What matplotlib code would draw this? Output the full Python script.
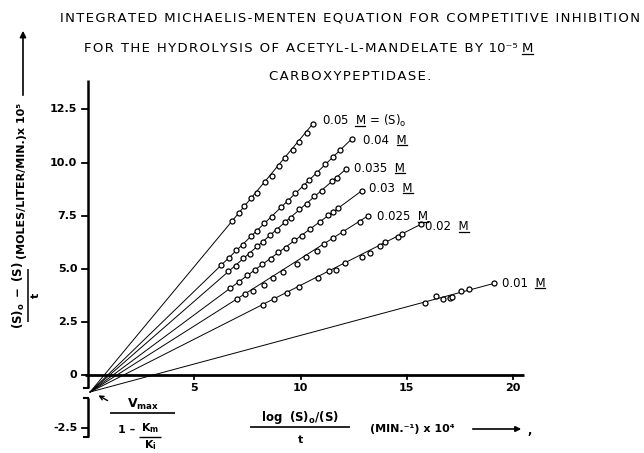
import matplotlib
matplotlib.use("Agg")
import matplotlib.pyplot as plt
from matplotlib.font_manager import FontProperties

plt.rcParams['font.family'] = ['DejaVu Sans']
plt.rcParams['mathtext.fontset'] = 'dejavusans'

# ---------------- data ----------------
series_names = ["0.05", "0.04", "0.035", "0.03", "0.025", "0.02", "0.01"]

x_005 = [6.79, 7.09, 7.36, 7.67, 7.97, 8.34, 8.64, 8.97, 9.27, 9.63, 9.95, 10.29, 10.57]
y_005 = [7.26, 7.64, 7.95, 8.31, 8.58, 9.07, 9.36, 9.85, 10.20, 10.59, 10.98, 11.40, 11.81]

x_004 = [6.24, 6.65, 6.96, 7.28, 7.65, 7.96, 8.29, 8.64, 9.06, 9.42, 9.76, 10.15, 10.39,
         10.79, 11.17, 11.53, 11.84, 12.41]
y_004 = [5.17, 5.52, 5.86, 6.13, 6.53, 6.78, 7.14, 7.44, 7.90, 8.20, 8.57, 8.90, 9.18,
         9.52, 9.93, 10.24, 10.58, 11.11]

x_0035 = [6.60, 6.95, 7.30, 7.60, 7.95, 8.25, 8.55, 8.90, 9.25, 9.55, 9.95, 10.30, 10.65,
          11.00, 11.50, 11.70, 12.13]
y_0035 = [4.88, 5.15, 5.49, 5.71, 6.06, 6.28, 6.58, 6.84, 7.19, 7.41, 7.80, 8.06, 8.41,
          8.67, 9.15, 9.28, 9.68]

x_003 = [6.70, 7.10, 7.50, 7.85, 8.20, 8.60, 8.95, 9.30, 9.70, 10.05, 10.45, 10.90, 11.30,
         11.55, 11.75, 12.88]
y_003 = [4.10, 4.37, 4.70, 4.92, 5.22, 5.48, 5.78, 6.00, 6.33, 6.55, 6.89, 7.18, 7.52,
         7.66, 7.85, 8.67]

x_0025 = [7.00, 7.40, 7.78, 8.28, 8.69, 9.19, 9.82, 10.26, 10.76, 11.10, 11.51, 12.01, 12.80, 13.16]
y_0025 = [3.58, 3.82, 3.97, 4.24, 4.55, 4.86, 5.22, 5.54, 5.85, 6.16, 6.43, 6.74, 7.20, 7.48]

x_002 = [8.22, 8.75, 9.35, 9.94, 10.84, 11.36, 11.67, 12.09, 12.88, 13.27, 13.74, 13.98,
         14.60, 14.79, 15.66]
y_002 = [3.28, 3.56, 3.87, 4.16, 4.58, 4.89, 4.94, 5.28, 5.57, 5.76, 6.07, 6.27,
         6.48, 6.64, 7.09]

x_001 = [15.86, 16.38, 16.72, 17.04, 17.14, 17.53, 17.93, 19.10]
y_001 = [3.40, 3.72, 3.58, 3.61, 3.69, 3.97, 4.03, 4.31]

# common intersection point of the fitted lines
x_cross = 0.1
y_cross = -0.8

x_ticks = [5, 10, 15, 20]
x_tick_labels = ["5", "10", "15", "20"]
y_ticks = [-2.5, 0, 2.5, 5.0, 7.5, 10.0, 12.5]
y_tick_labels = ["-2.5", "0", "2.5", "5.0", "7.5", "10.0", "12.5"]

xs_all = [x_005, x_004, x_0035, x_003, x_0025, x_002, x_001]
ys_all = [y_005, y_004, y_0035, y_003, y_0025, y_002, y_001]

# ---------------- figure ----------------
DPI = 100
PX = 21.25          # pixels per data unit
X0, Y0 = 88, 375    # pixel position of origin (from top-left)
W, H = 644, 453

fig = plt.figure(figsize=(W / DPI, H / DPI), dpi=DPI)
ax = fig.add_axes([0, 0, 1, 1])
ax.set_xlim(-X0 / PX, (W - X0) / PX)
ax.set_ylim(-(H - Y0) / PX, Y0 / PX)
ax.axis('off')

K = 'black'
HS = "\u200a"

def spaced(s):
    return HS.join(s)

def px2d(px, py):
    return ((px - X0) / PX, (Y0 - py) / PX)

def seg(p1, p2, lw=1.2):
    a = px2d(*p1)
    b = px2d(*p2)
    ax.plot([a[0], b[0]], [a[1], b[1]], color=K, lw=lw, solid_capstyle='butt')

# axes lines
ax.plot([-0.15, 20.5], [0, 0], color=K, lw=2.0, solid_capstyle='butt')
ax.plot([0, 0], [-0.62, 13.9], color=K, lw=1.8, solid_capstyle='butt')
ax.plot([0, -0.2], [-0.62, -0.62], color=K, lw=1.5)
ax.plot([0, 0], [-1.08, -2.92], color=K, lw=1.8, solid_capstyle='butt')
ax.plot([0, -0.2], [-1.08, -1.08], color=K, lw=1.5)
ax.plot([0, -0.2], [-2.92, -2.92], color=K, lw=1.5)

TKFS = 8
for yt, lab in zip(y_ticks, y_tick_labels):
    ax.plot([-0.3, 0], [yt, yt], color=K, lw=1.3)
    ax.text(-0.5, yt, lab, ha='right', va='center', fontsize=TKFS, fontweight='bold')

for xt, lab in zip(x_ticks, x_tick_labels):
    ax.plot([xt, xt], [0, -0.2], color=K, lw=1.3)
    ax.text(xt, -0.6, lab, ha='center', va='center', fontsize=TKFS, fontweight='bold')

# fitted lines and points
for xs, ys in zip(xs_all, ys_all):
    ax.plot([x_cross, xs[-1]], [y_cross, ys[-1]], color=K, lw=0.7)
    ax.plot(xs, ys, 'o', ms=3.6, mfc='white', mec=K, mew=0.9)

# series labels (M underlined)
LFS = 8.5
label_pos = [(11.0, 11.95), (12.96, 11.05), (12.52, 9.74), (13.24, 8.79),
             (13.59, 7.45), (15.86, 6.98), (19.47, 4.32)]
label_suffix = [" = (S)$_\\mathrm{o}$", "", "", "", "", "", ""]

underlines = []
for name, (lx, ly), suf in zip(series_names, label_pos, label_suffix):
    pre = name + "  "
    ax.text(lx, ly - 0.17, pre + "M" + suf, ha='left', va='baseline', fontsize=LFS)
    underlines.append((lx, ly - 0.17, pre, LFS, 'normal'))

# title
TFS = 9.5
t1 = spaced("INTEGRATED MICHAELIS-MENTEN EQUATION FOR COMPETITIVE INHIBITION")
t2_pre = spaced("FOR THE HYDROLYSIS OF ACETYL-L-MANDELATE BY ") + "10\u207b\u2075 "
t3 = spaced("CARBOXYPEPTIDASE.")
ax.text(*px2d(60, 22), t1, ha='left', va='baseline', fontsize=TFS)
ax.text(*px2d(84, 52), t2_pre + "M", ha='left', va='baseline', fontsize=TFS)
underlines.append((*px2d(84, 52), t2_pre, TFS, 'normal'))
ax.text(*px2d(350, 80), t3, ha='center', va='baseline', fontsize=TFS)

# y-axis label (rotated)
ax.text(*px2d(19, 295), r"$\mathbf{(S)_o\ -\ (S)}$", rotation=90,
        ha='center', va='center', fontsize=8.5)
seg((28, 269), (28, 322), lw=1.1)
ax.text(*px2d(36, 295), "t", rotation=90, ha='center', va='center',
        fontsize=8, fontweight='bold')
ax.text(*px2d(22, 181), "(MOLES/LITER/MIN.)x 10\u2075", rotation=90,
        ha='center', va='center', fontsize=8, fontweight='bold')
ax.annotate("", xy=px2d(23, 28), xytext=px2d(23, 98),
            arrowprops=dict(arrowstyle='-|>', lw=1.2, color=K, mutation_scale=9))

# bottom annotations
ax.annotate("", xy=px2d(96, 394), xytext=px2d(110, 402),
            arrowprops=dict(arrowstyle='->', lw=1.0, color=K, mutation_scale=7))
ax.text(*px2d(143, 404), r"$\mathbf{V_{max}}$", ha='center', va='center', fontsize=9)
seg((110, 413), (175, 413), lw=1.2)
ax.text(*px2d(127, 430), "1 \u2013", ha='center', va='center', fontsize=8, fontweight='bold')
ax.text(*px2d(150, 428), r"$\mathbf{K_m}$", ha='center', va='center', fontsize=8)
seg((139, 437), (161, 437), lw=1.0)
ax.text(*px2d(150, 445), r"$\mathbf{K_i}$", ha='center', va='center', fontsize=8)

ax.text(*px2d(300, 418), r"$\mathbf{log\ \ (S)_o/(S)}$", ha='center', va='center', fontsize=8.5)
seg((250, 427), (350, 427), lw=1.2)
ax.text(*px2d(300, 440), "t", ha='center', va='center', fontsize=8, fontweight='bold')
ax.text(*px2d(370, 429), "(MIN.\u207b\u00b9) x 10\u2074", ha='left', va='center',
        fontsize=8, fontweight='bold')
ax.annotate("", xy=px2d(524, 429), xytext=px2d(470, 429),
            arrowprops=dict(arrowstyle='-|>', lw=1.2, color=K, mutation_scale=8))
ax.text(*px2d(527, 431), ",", ha='left', va='center', fontsize=8, fontweight='bold')

# draw underlines under the "M" symbols
fig.canvas.draw()
renderer = fig.canvas.get_renderer()
for (ux, uy, pre, fs, wt) in underlines:
    prop = FontProperties(family='DejaVu Sans', size=fs, weight=wt)
    s_full = pre + "M"
    ismath = s_full.count('$') >= 2
    w_full, _, _ = renderer.get_text_width_height_descent(s_full, prop, ismath=ismath)
    w_m, _, _ = renderer.get_text_width_height_descent("M", prop, ismath=False)
    xa = ux + (w_full - w_m) / PX
    xb = ux + w_full / PX
    ax.plot([xa, xb], [uy - 1.6 / PX, uy - 1.6 / PX], color=K, lw=0.9)

fig.savefig("out.png", dpi=DPI)
